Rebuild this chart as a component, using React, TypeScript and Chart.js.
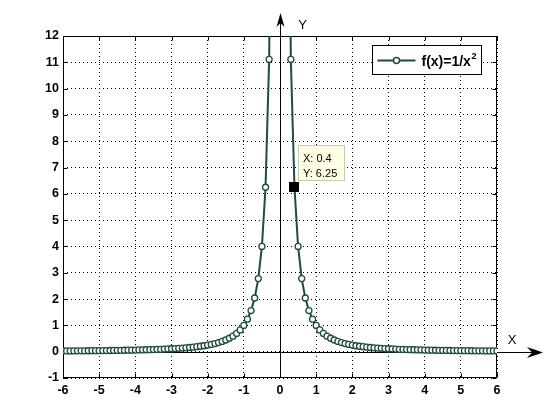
import React, { useEffect, useRef } from 'react';
import { Chart, registerables } from 'chart.js';

Chart.register(...registerables);

const xValues: number[] = [
  -6, -5.9, -5.8, -5.7, -5.6, -5.5, -5.4, -5.3, -5.2, -5.1,
  -5, -4.9, -4.8, -4.7, -4.6, -4.5, -4.4, -4.3, -4.2, -4.1,
  -4, -3.9, -3.8, -3.7, -3.6, -3.5, -3.4, -3.3, -3.2, -3.1,
  -3, -2.9, -2.8, -2.7, -2.6, -2.5, -2.4, -2.3, -2.2, -2.1,
  -2, -1.9, -1.8, -1.7, -1.6, -1.5, -1.4, -1.3, -1.2, -1.1,
  -1, -0.9, -0.8, -0.7, -0.6, -0.5, -0.4, -0.3, -0.2, -0.1,
  0,
  0.1, 0.2, 0.3, 0.4, 0.5, 0.6, 0.7, 0.8, 0.9, 1,
  1.1, 1.2, 1.3, 1.4, 1.5, 1.6, 1.7, 1.8, 1.9, 2,
  2.1, 2.2, 2.3, 2.4, 2.5, 2.6, 2.7, 2.8, 2.9, 3,
  3.1, 3.2, 3.3, 3.4, 3.5, 3.6, 3.7, 3.8, 3.9, 4,
  4.1, 4.2, 4.3, 4.4, 4.5, 4.6, 4.7, 4.8, 4.9, 5,
  5.1, 5.2, 5.3, 5.4, 5.5, 5.6, 5.7, 5.8, 5.9, 6,
];

const yValues: (number | null)[] = [
  0.0278, 0.0287, 0.0297, 0.0308, 0.0319, 0.0331, 0.0343, 0.0356, 0.037, 0.0384,
  0.04, 0.0416, 0.0434, 0.0453, 0.0473, 0.0494, 0.0517, 0.0541, 0.0567, 0.0595,
  0.0625, 0.0657, 0.0693, 0.073, 0.0772, 0.0816, 0.0865, 0.0918, 0.0977, 0.1041,
  0.1111, 0.1189, 0.1276, 0.1372, 0.1479, 0.16, 0.1736, 0.189, 0.2066, 0.2268,
  0.25, 0.277, 0.3086, 0.346, 0.3906, 0.4444, 0.5102, 0.5917, 0.6944, 0.8264,
  1, 1.2346, 1.5625, 2.0408, 2.7778, 4, 6.25, 11.1111, 25, 100,
  null,
  100, 25, 11.1111, 6.25, 4, 2.7778, 2.0408, 1.5625, 1.2346, 1,
  0.8264, 0.6944, 0.5917, 0.5102, 0.4444, 0.3906, 0.346, 0.3086, 0.277, 0.25,
  0.2268, 0.2066, 0.189, 0.1736, 0.16, 0.1479, 0.1372, 0.1276, 0.1189, 0.1111,
  0.1041, 0.0977, 0.0918, 0.0865, 0.0816, 0.0772, 0.073, 0.0693, 0.0657, 0.0625,
  0.0595, 0.0567, 0.0541, 0.0517, 0.0494, 0.0473, 0.0453, 0.0434, 0.0416, 0.04,
  0.0384, 0.037, 0.0356, 0.0343, 0.0331, 0.0319, 0.0308, 0.0297, 0.0287, 0.0278,
];

const xMin = -6;
const xMax = 6;
const yMin = -1;
const yMax = 12;
const seriesLabel = 'f(x)=1/x';
const seriesSuperscript = '2';
const xAxisName = 'X';
const yAxisName = 'Y';
const tipX = 0.4;
const tipY = 6.25;
const tipLines = ['X: 0.4', 'Y: 6.25'];

const LINE_COLOR = '#1f4d3d';
const FONT = '"Liberation Sans", Arial, sans-serif';

const decorPlugin = {
  id: 'decor',
  beforeDatasetsDraw(chart: any) {
    const { ctx, chartArea: a, scales } = chart;
    const xs = scales.x;
    const ys = scales.y;
    const L = Math.round(a.left) + 0.5;
    const R = Math.round(a.right) - 0.5;
    const T = Math.round(a.top) + 0.5;
    const B = Math.round(a.bottom) - 0.5;
    ctx.save();
    ctx.strokeStyle = '#000';
    ctx.lineWidth = 1;
    ctx.setLineDash([]);
    const line = (x1: number, y1: number, x2: number, y2: number) => {
      ctx.beginPath();
      ctx.moveTo(x1, y1);
      ctx.lineTo(x2, y2);
      ctx.stroke();
    };
    // box
    ctx.strokeRect(L, T, R - L, B - T);
    // inner ticks
    xs.ticks.forEach((t: any) => {
      const px = Math.round(xs.getPixelForValue(t.value)) + 0.5;
      line(px, B, px, B - 4);
      line(px, T, px, T + 4);
    });
    ys.ticks.forEach((t: any) => {
      const py = Math.round(ys.getPixelForValue(t.value)) + 0.5;
      line(L, py, L + 4, py);
      line(R, py, R - 4, py);
    });
    // axis lines through origin
    const x0 = Math.round(xs.getPixelForValue(0)) + 0.5;
    const y0 = Math.round(ys.getPixelForValue(0)) + 0.5;
    const xTip = a.right + 46;
    const yTip = a.top - 23;
    line(a.left, y0, xTip - 10, y0);
    line(x0, a.bottom, x0, yTip + 9);
    ctx.fillStyle = '#000';
    // x arrow head
    ctx.beginPath();
    ctx.moveTo(xTip, y0);
    ctx.lineTo(xTip - 16, y0 - 5.5);
    ctx.lineTo(xTip - 11, y0);
    ctx.lineTo(xTip - 16, y0 + 5.5);
    ctx.closePath();
    ctx.fill();
    // y arrow head
    ctx.beginPath();
    ctx.moveTo(x0, yTip);
    ctx.lineTo(x0 - 4, yTip + 14);
    ctx.lineTo(x0, yTip + 10);
    ctx.lineTo(x0 + 4, yTip + 14);
    ctx.closePath();
    ctx.fill();
    // axis names
    ctx.font = `13px ${FONT}`;
    ctx.textAlign = 'center';
    ctx.textBaseline = 'alphabetic';
    ctx.fillText(xAxisName, a.right + 15, y0 - 8.5);
    ctx.fillText(yAxisName, x0 + 22, a.top - 7);
    ctx.restore();
  },
  afterDatasetsDraw(chart: any) {
    const { ctx, chartArea: a, scales } = chart;
    const xs = scales.x;
    const ys = scales.y;
    ctx.save();
    // data tip
    const px = xs.getPixelForValue(tipX);
    const py = ys.getPixelForValue(tipY);
    const bx = Math.round(px + 4) + 0.5;
    const by = Math.round(py - 42) + 0.5;
    ctx.fillStyle = '#ffffe6';
    ctx.fillRect(bx, by, 46, 35);
    ctx.strokeStyle = '#c8c8b4';
    ctx.lineWidth = 1;
    ctx.strokeRect(bx, by, 46, 35);
    ctx.fillStyle = '#000';
    ctx.fillRect(Math.round(px - 5), Math.round(py - 5), 10, 10);
    ctx.font = `11px ${FONT}`;
    ctx.textAlign = 'left';
    ctx.textBaseline = 'alphabetic';
    ctx.fillText(tipLines[0], bx + 4.5, by + 16);
    ctx.fillText(tipLines[1], bx + 4.5, by + 31);
    // legend
    const lx = Math.round(a.right - 125) + 0.5;
    const ly = Math.round(a.top + 9) + 0.5;
    const lw = 109;
    const lh = 29;
    ctx.fillStyle = '#fff';
    ctx.fillRect(lx, ly, lw, lh);
    ctx.strokeStyle = '#000';
    ctx.strokeRect(lx, ly, lw, lh);
    const cy = ly + 15;
    ctx.strokeStyle = LINE_COLOR;
    ctx.lineWidth = 2;
    ctx.beginPath();
    ctx.moveTo(lx + 5, cy);
    ctx.lineTo(lx + 43, cy);
    ctx.stroke();
    ctx.fillStyle = '#fff';
    ctx.lineWidth = 1.5;
    ctx.beginPath();
    ctx.arc(lx + 24, cy, 3, 0, Math.PI * 2);
    ctx.fill();
    ctx.stroke();
    ctx.fillStyle = '#000';
    ctx.font = `bold 14px ${FONT}`;
    const tx = lx + 49;
    ctx.fillText(seriesLabel, tx, cy + 5);
    const w = ctx.measureText(seriesLabel).width;
    ctx.font = `bold 9px ${FONT}`;
    ctx.fillText(seriesSuperscript, tx + w + 0.5, cy - 1.5);
    ctx.restore();
  },
};

export default function App() {
  const ref = useRef<HTMLCanvasElement | null>(null);
  useEffect(() => {
    if (!ref.current) return;
    const points = xValues.map((x, i) => ({ x, y: yValues[i] }));
    const tickFont = { family: FONT, size: 12.5, weight: 'bold' as const };
    const chart = new Chart(ref.current, {
      type: 'scatter',
      data: {
        datasets: [
          {
            label: seriesLabel + seriesSuperscript,
            data: points as any,
            showLine: true,
            spanGaps: false,
            borderColor: LINE_COLOR,
            borderWidth: 2,
            pointRadius: 3,
            pointBorderWidth: 1.3,
            pointBackgroundColor: '#fff',
            pointBorderColor: LINE_COLOR,
            tension: 0,
          },
        ],
      },
      options: {
        animation: false,
        responsive: false,
        maintainAspectRatio: false,
        layout: { padding: { top: 36, right: 63, left: 0, bottom: 0 } },
        plugins: {
          legend: { display: false },
          tooltip: { enabled: false },
        },
        events: [],
        scales: {
          x: {
            type: 'linear',
            min: xMin,
            max: xMax,
            afterFit: (s: any) => {
              s.height = 42;
            },
            ticks: { stepSize: 1, color: '#000', font: tickFont, padding: 5, maxRotation: 0, autoSkip: false },
            grid: { color: '#000', lineWidth: 1, drawTicks: false },
            border: { display: false, dash: [1, 3] },
          },
          y: {
            type: 'linear',
            min: yMin,
            max: yMax,
            afterFit: (s: any) => {
              s.width = 63;
            },
            ticks: { stepSize: 1, color: '#000', font: tickFont, padding: 4, autoSkip: false },
            grid: { color: '#000', lineWidth: 1, drawTicks: false },
            border: { display: false, dash: [1, 3] },
          },
        },
      },
      plugins: [decorPlugin],
    });
    return () => chart.destroy();
  }, []);
  return (
    <div style={{ position: 'absolute', left: 0, top: 0, width: 560, height: 420, background: '#fff' }}>
      <canvas ref={ref} width={560} height={420} style={{ display: 'block', width: 560, height: 420 }} />
    </div>
  );
}
